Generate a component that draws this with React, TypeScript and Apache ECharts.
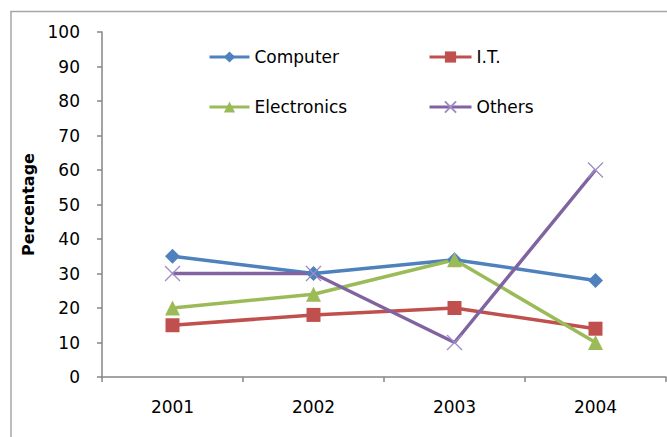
import React, { useEffect, useRef } from "react";
import * as echarts from "echarts";

const categories = ["2001", "2002", "2003", "2004"];
const computer = [35, 30, 34, 28];
const it = [15, 18, 20, 14];
const electronics = [20, 24, 34, 10];
const others = [30, 30, 10, 60];

const FONT = "DejaVu Sans";

export default function App() {
  const ref = useRef<HTMLDivElement>(null);
  useEffect(() => {
    document.body.style.margin = "0";
    const chart = echarts.init(ref.current!, null, { renderer: "svg" });
    const lineW = 3.5;
    const legendCommon = {
      orient: "vertical",
      top: 47,
      padding: 0,
      itemGap: 30,
      itemWidth: 40,
      itemHeight: 14,
      lineStyle: { width: 3 },
      textStyle: { fontFamily: FONT, fontSize: 17, color: "#000", lineHeight: 20 },
    };
    chart.setOption({
      animation: false,
      backgroundColor: "#ffffff",
      textStyle: { fontFamily: FONT },
      graphic: [
        {
          type: "rect",
          shape: { x: 11, y: 11.5, width: 720, height: 500 },
          style: { fill: "none", stroke: "#A6A6A6", lineWidth: 1.5 },
          silent: true,
        },
      ],
      grid: { left: 102, right: 1, top: 32, bottom: 60, containLabel: false },
      legend: [
        { ...legendCommon, data: ["Computer", "Electronics"], left: 208 },
        { ...legendCommon, data: ["I.T.", "Others"], left: 428, itemWidth: 42 },
      ],
      xAxis: {
        type: "category",
        data: categories,
        boundaryGap: true,
        axisLine: { lineStyle: { color: "#868686", width: 1.5 } },
        axisTick: { show: true, length: 5, lineStyle: { color: "#868686", width: 1.5 } },
        axisLabel: { fontFamily: FONT, fontSize: 17, color: "#000", margin: 21 },
      },
      yAxis: {
        type: "value",
        min: 0,
        max: 100,
        interval: 10,
        name: "Percentage",
        nameLocation: "middle",
        nameRotate: 90,
        nameGap: 66,
        nameTextStyle: { fontFamily: FONT, fontSize: 16, fontWeight: "bold", color: "#000" },
        splitLine: { show: false },
        axisLine: { show: true, lineStyle: { color: "#868686", width: 1.5 } },
        axisTick: { show: true, length: 5, lineStyle: { color: "#868686", width: 1.5 } },
        axisLabel: { fontFamily: FONT, fontSize: 17, color: "#000", margin: 22 },
      },
      series: [
        {
          name: "Computer",
          type: "line",
          data: computer,
          symbol: "diamond",
          symbolSize: 15,
          itemStyle: { color: "#4F81BD" },
          lineStyle: { color: "#4F81BD", width: lineW },
        },
        {
          name: "I.T.",
          type: "line",
          data: it,
          symbol: "rect",
          symbolSize: 14,
          itemStyle: { color: "#C0504D" },
          lineStyle: { color: "#C0504D", width: lineW },
        },
        {
          name: "Electronics",
          type: "line",
          data: electronics,
          symbol: "triangle",
          symbolSize: 15,
          itemStyle: { color: "#9BBB59" },
          lineStyle: { color: "#9BBB59", width: lineW },
        },
        {
          name: "Others",
          type: "line",
          data: others,
          symbol: "path://M0,0L10,10M10,0L0,10",
          symbolSize: 15,
          itemStyle: { color: "none", borderColor: "#9F8CC4", borderWidth: 1.3 },
          lineStyle: { color: "#8064A2", width: lineW },
        },
      ],
    });
    return () => chart.dispose();
  }, []);
  return <div ref={ref} style={{ width: 667, height: 437 }} />;
}
